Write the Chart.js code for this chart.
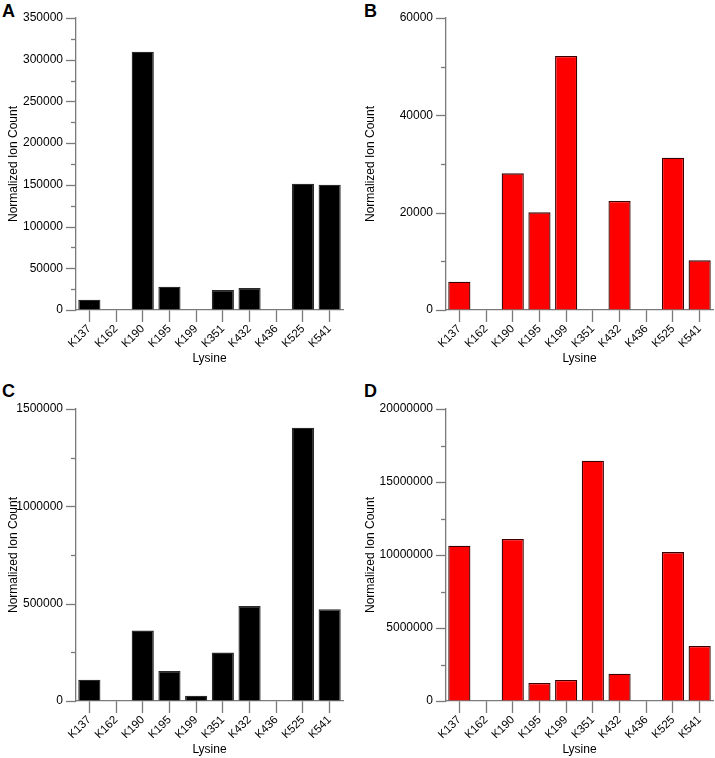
<!DOCTYPE html>
<html>
<head>
<meta charset="utf-8">
<script src="https://cdn.jsdelivr.net/npm/chart.js@4/dist/chart.umd.min.js"></script>
<style>
  html, body { margin: 0; padding: 0; background: #fff; }
  body { width: 715px; height: 758px; position: relative; overflow: hidden; font-family: "Liberation Sans", Arial, sans-serif; }
  .panel { position: absolute; }
  .letter { position: absolute; font: bold 18px "Liberation Sans", Arial, sans-serif; line-height: 18px; color: #000; }
</style>
</head>
<body>
<div class="letter" style="left:2px;top:2px">A</div>
<div class="letter" style="left:364px;top:2px">B</div>
<div class="letter" style="left:2px;top:382px">C</div>
<div class="letter" style="left:364px;top:382px">D</div>
<div class="panel" style="left:0;top:0;width:357px;height:367px"><canvas id="cA"></canvas></div>
<div class="panel" style="left:357px;top:0;width:358px;height:367px"><canvas id="cB"></canvas></div>
<div class="panel" style="left:0;top:379px;width:357px;height:379px"><canvas id="cC"></canvas></div>
<div class="panel" style="left:357px;top:379px;width:358px;height:379px"><canvas id="cD"></canvas></div>
<script>
// ---- data ----
const lysines = ['K137','K162','K190','K195','K199','K351','K432','K436','K525','K541'];
const valuesA = [12400, 0, 309600, 28000, 0, 24000, 26400, 0, 151400, 150200];
const valuesB = [5820, 0, 28080, 20070, 52190, 0, 22400, 0, 31300, 10200];
const valuesC = [109700, 0, 361700, 154300, 27400, 248600, 488600, 0, 1404000, 471400];
const valuesD = [10630000, 0, 11100000, 1230000, 1440000, 16460000, 1870000, 0, 10200000, 3770000];
const yMaxA = 350000, yStepA = 50000;
const yMaxB = 60000, yStepB = 20000;
const yMaxC = 1500000, yStepC = 500000;
const yMaxD = 20000000, yStepD = 5000000;
const xTitle = 'Lysine';
const yTitle = 'Normalized Ion Count';

const FONT = '"Liberation Sans", Arial, sans-serif';
const AXIS = '#7a7a7a';

// custom y tick marks: long at labelled ticks, short at minor ticks
const yTickPlugin = {
  id: 'yTicks',
  afterDraw(chart, args, opts) {
    const s = chart.scales.y;
    const ctx = chart.ctx;
    ctx.save();
    ctx.strokeStyle = AXIS;
    ctx.lineWidth = 1.3;
    s.ticks.forEach((t, i) => {
      const major = Math.round(t.value / opts.major) * opts.major === t.value;
      const len = major ? 10 : 5;
      const y = Math.round(s.getPixelForTick(i)) + 0.5;
      ctx.beginPath();
      ctx.moveTo(s.right - len, y);
      ctx.lineTo(s.right, y);
      ctx.stroke();
    });
    ctx.restore();
  }
};

function makeChart(id, values, yMax, yStep, color, border, yWidth, padTop, padRight) {
  new Chart(document.getElementById(id), {
    type: 'bar',
    data: {
      labels: lysines,
      datasets: [{
        data: values,
        backgroundColor: color,
        borderColor: border,
        borderWidth: 1.3,
        borderSkipped: 'bottom',
        barPercentage: 0.83,
        categoryPercentage: 1.0
      }]
    },
    plugins: [yTickPlugin],
    options: {
      responsive: true,
      maintainAspectRatio: false,
      animation: false,
      events: [],
      layout: { padding: { top: padTop, right: padRight, left: 0, bottom: 0 } },
      plugins: { legend: { display: false }, tooltip: { enabled: false }, yTicks: { major: yStep } },
      scales: {
        x: {
          type: 'category',
          offset: true,
          grid: { display: true, drawOnChartArea: false, offset: false, tickLength: 12, tickColor: AXIS, tickWidth: 1.3 },
          border: { display: true, color: AXIS, width: 1.3 },
          ticks: { color: '#000', font: { family: FONT, size: 11.5 }, minRotation: 45, maxRotation: 45, padding: 0, autoSkip: false },
          title: { display: true, text: xTitle, color: '#000', font: { family: FONT, size: 12 }, padding: { top: 0, bottom: 1 } },
          afterFit(s) { s.height = 57; }
        },
        y: {
          min: 0, max: yMax,
          grid: { display: true, drawOnChartArea: false, drawTicks: true, tickLength: 10, tickColor: 'rgba(0,0,0,0)' },
          border: { display: true, color: AXIS, width: 1.3 },
          ticks: {
            stepSize: yStep / 2,
            color: '#000',
            font: { family: FONT, size: 12 },
            padding: 3,
            callback: (v) => (v % yStep === 0 ? String(v) : '')
          },
          title: { display: true, text: yTitle, color: '#000', font: { family: FONT, size: 12 }, padding: { top: 6, bottom: 0 } },
          afterFit(s) { s.width = yWidth; }
        }
      }
    }
  });
}

makeChart('cA', valuesA, yMaxA, yStepA, '#000000', '#2a2a2a', 76, 18, 14);
makeChart('cB', valuesB, yMaxB, yStepB, '#ff0000', '#3a0000', 89, 18, 2);
makeChart('cC', valuesC, yMaxC, yStepC, '#000000', '#2a2a2a', 76, 30, 14);
makeChart('cD', valuesD, yMaxD, yStepD, '#ff0000', '#3a0000', 89, 30, 2);
</script>
</body>
</html>
